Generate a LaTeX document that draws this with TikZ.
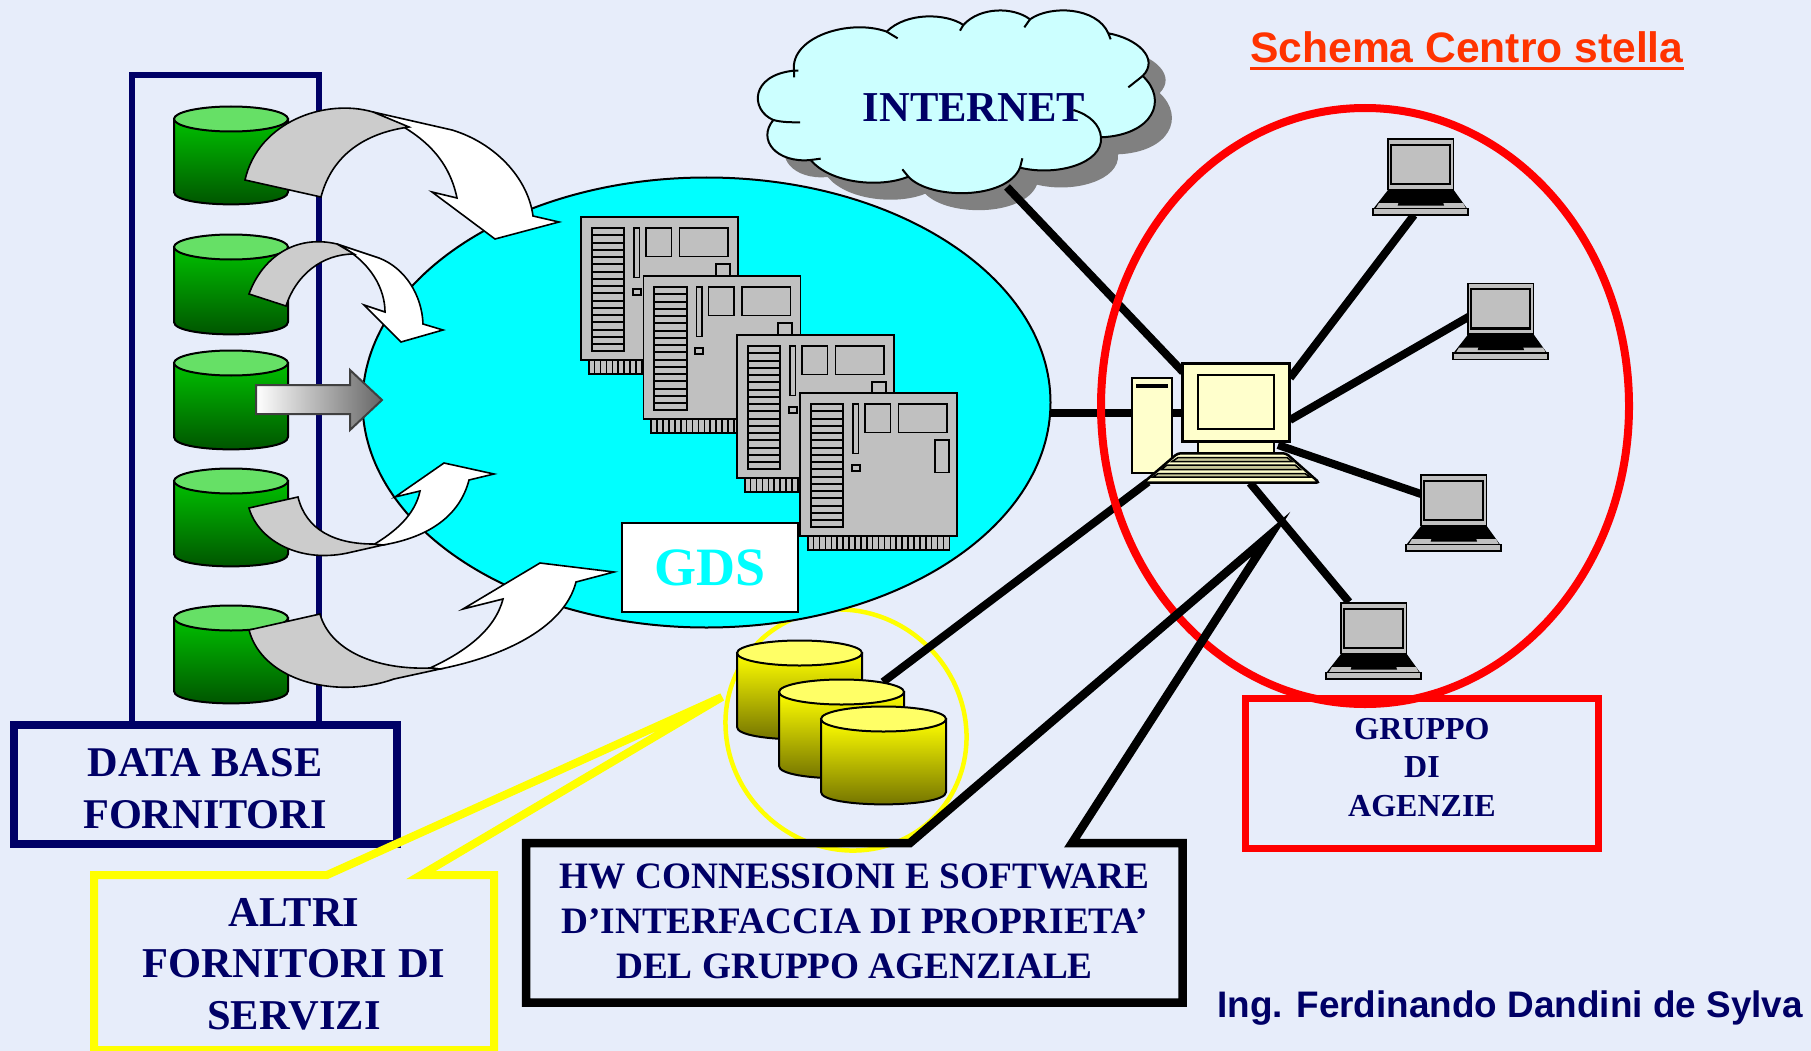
\documentclass[tikz,border=0pt]{standalone}
\usepackage{fontspec}
\setmainfont{Liberation Serif}
\setsansfont{Liberation Sans}
\definecolor{bgc}{HTML}{E7EDFA}
\definecolor{navy}{HTML}{000066}
\definecolor{titlered}{HTML}{FF3300}
\definecolor{boardg}{HTML}{C0C0C0}
\definecolor{cream}{HTML}{FFFFCC}
\definecolor{keyc}{HTML}{C8C89A}
\definecolor{arrowg}{HTML}{CCCCCC}
\definecolor{cloudc}{HTML}{CCFFFF}
\definecolor{pureyellow}{HTML}{FFFF00}
\definecolor{purecyan}{HTML}{00FFFF}
\definecolor{purered}{HTML}{FF0000}
\definecolor{gtop}{HTML}{00C000}
\definecolor{gbot}{HTML}{005000}
\definecolor{glid}{HTML}{66E066}
\definecolor{ytop}{HTML}{FFFF00}
\definecolor{ybot}{HTML}{6E6E00}
\definecolor{ylid}{HTML}{FFFF66}
\newcommand\cylshape[7]{%
  \draw[line width=2pt,black,top color=#5,bottom color=#6]
    ({#1-#4},#2) -- ({#1-#4},#3) .. controls ({#1-#4},{#3+16.5}) and ({#1+#4},{#3+16.5}) .. ({#1+#4},#3) -- ({#1+#4},#2) -- cycle;
  \draw[line width=2pt,black,fill=#7] (#1,#2) ellipse [x radius=#4pt,y radius=12.5pt];
}
\newcommand\cloudoutline{
  (222,212) .. controls (210,110) and (390,55) .. (500,95)
  .. controls (560,35) and (680,40) .. (730,75)
  .. controls (780,20) and (880,20) .. (930,58)
  .. controls (990,15) and (1130,20) .. (1165,100)
  .. controls (1250,115) and (1320,175) .. (1268,228)
  .. controls (1345,300) and (1300,405) .. (1143,412)
  .. controls (1150,490) and (1010,530) .. (900,503)
  .. controls (860,600) and (630,600) .. (565,530)
  .. controls (480,565) and (330,550) .. (272,480)
  .. controls (170,490) and (110,420) .. (160,360)
  .. controls (90,330) and (90,225) .. (222,212) -- cycle
}
\tikzset{
  x=1pt,y=-1pt,
  link/.style={line width=8pt,black},
  frameline/.style={line width=#1,navy},
  callouttext/.style={font=\bfseries\fontsize{42.3}{52}\selectfont,text=navy,align=center,inner sep=0pt},
  arrowline/.style={line width=1.6pt,black,line join=miter},
  boardline/.style={line width=1.6pt,black},
  boardpic/.pic={
    \foreach \i in {0,...,23}{\draw[boardline,fill=boardg] ({7.7+\i*5.9},140) rectangle ({7.7+(\i+1)*5.9},157);}
    \draw[boardline,fill=boardg] (0,0) rectangle (157,143);
    \draw[line width=2pt,black,fill=boardg] (10.7,11) rectangle (43.3,134.3);
    \foreach \i in {1,...,16}{\draw[line width=2pt,black] (10.7,{11+\i*7.25}) -- (43.3,{11+\i*7.25});}
    \draw[boardline,fill=boardg] (53,11) rectangle (58.3,60.3);
    \draw[boardline,fill=boardg] (51.7,71.7) rectangle (59.7,78);
    \draw[boardline,fill=boardg] (65,11) rectangle (90.3,39.3);
    \draw[boardline,fill=boardg] (98.3,11) rectangle (147,39.3);
    \draw[boardline,fill=boardg] (134.7,46.7) rectangle (148.7,79.3);
  },
  laptoppic/.pic={
    \draw[line width=1.5pt,black,fill=boardg] (15,0) rectangle (80.7,50.7);
    \draw[line width=2.2pt,black,fill=boardg] (18.3,5.7) rectangle (77.3,45);
    \fill[black] (15,51) -- (80.7,51) -- (94,69.5) -- (0.5,69.5) -- cycle;
    \fill[boardg] (6,64) -- (90,64) -- (92.7,69) -- (3,69) -- cycle;
    \fill[black] (25.7,63) -- (70,63) -- (71,66.5) -- (24.7,66.5) -- cycle;
    \draw[line width=1.5pt,black,fill=boardg] (0,69.7) rectangle (95,76);
  }
}
\begin{document}
\begin{tikzpicture}
\useasboundingbox (0,0) rectangle (1811,1051);
\fill[bgc] (0,0) rectangle (1811,1051);
% named attachment points
\coordinate (framenw) at (132,75); \coordinate (framene) at (319,75);
\coordinate (framesw) at (132,725); \coordinate (framese) at (319,725);
\coordinate (netfoot) at (1007,187); \coordinate (pcnet) at (1183,372);
\coordinate (gdsside) at (1051,413); \coordinate (pcgds) at (1190,413);
\coordinate (pcl1) at (1290,378); \coordinate (l1foot) at (1414,215);
\coordinate (pcl2) at (1290,420); \coordinate (l2side) at (1470,316);
\coordinate (pcl3) at (1278,445); \coordinate (l3side) at (1421,494);
\coordinate (pcl4) at (1250,483); \coordinate (l4top) at (1349,602);
\coordinate (pcdb) at (1148,482); \coordinate (dbtop) at (883,682);
% frame
\draw[frameline=6pt] (framesw) -- (framenw) -- (framene) -- (framese);
% green cylinders
\cylshape{231}{119}{192}{57}{gtop}{gbot}{glid}
\cylshape{231}{247}{322}{57}{gtop}{gbot}{glid}
\cylshape{231}{363}{437}{57}{gtop}{gbot}{glid}
\cylshape{231}{481}{554}{57}{gtop}{gbot}{glid}
\cylshape{231}{618}{691}{57}{gtop}{gbot}{glid}
% yellow circle
\draw[pureyellow,line width=4.5pt,rotate around={45:(846,730)}] (846,730) ellipse [x radius=117pt,y radius=124pt];
% links behind
\draw[link] (gdsside) -- (pcgds);
\draw[link] (pcdb) -- (dbtop);
% cyan ellipse
\draw[line width=2pt,black,fill=purecyan] (706.5,402.5) ellipse [x radius=344pt,y radius=225pt];
% boards
\pic at (581,217) {boardpic};
\pic at (643.5,276) {boardpic};
\pic at (737,335) {boardpic};
\pic at (800,393) {boardpic};
% GDS
\node[draw=black,line width=2.5pt,fill=white,minimum width=176pt,minimum height=89pt,inner sep=0pt,text=purecyan,font=\bfseries\fontsize{54}{54}\selectfont] (gds) at (710,567.5) {GDS};
% yellow cylinders
\cylshape{799.5}{653}{727}{62.5}{ytop}{ybot}{ylid}
\cylshape{841.5}{692}{766}{62.5}{ytop}{ybot}{ylid}
\cylshape{883.5}{719}{792}{62.5}{ytop}{ybot}{ylid}
% curved arrows
\draw[arrowline,fill=white] (373,112) -- (452,130) .. controls (495,143) and (528,178) .. (533,216) -- (559,222) -- (495,239) -- (432,192) -- (457,198) .. controls (450,165) and (430,135) .. (373,112) -- cycle;
\draw[arrowline,fill=arrowg] (245,180) .. controls (258,122) and (325,98) .. (373,112) -- (409,127) .. controls (365,133) and (332,155) .. (321,197) -- cycle;
\draw[arrowline,fill=white] (337,244) -- (379,258) .. controls (405,268) and (422,295) .. (423,324) -- (443,330) -- (401,342) -- (364,305) -- (385,312) .. controls (385,290) and (372,262) .. (337,244) -- cycle;
\draw[arrowline,fill=arrowg] (249,294) .. controls (262,258) and (295,234) .. (337,244) -- (354,254) .. controls (322,254) and (296,275) .. (286,306) -- cycle;
\draw[line width=2pt,black!75,left color=white,right color=black!60] (256,385) -- (350,385) -- (350,370) -- (382,400) -- (350,430) -- (350,414) -- (256,414) -- cycle;
\draw[arrowline,fill=white] (373,545) -- (383,545) .. controls (430,537) and (460,515) .. (469,480) -- (494,474) -- (444,463) -- (395,497) -- (420,491) .. controls (415,515) and (395,532) .. (373,545) -- cycle;
\draw[arrowline,fill=arrowg] (249,508) .. controls (258,540) and (300,565) .. (352,552) -- (383,545) -- (373,544) .. controls (335,544) and (306,530) .. (298,497) -- cycle;
\draw[arrowline,fill=white] (430,668) -- (440,669) .. controls (510,655) and (565,625) .. (576,582) -- (614,572) -- (540,563) -- (463,609) -- (503,599) .. controls (495,630) and (465,652) .. (430,668) -- cycle;
\draw[arrowline,fill=arrowg] (249,630) .. controls (262,680) and (335,700) .. (394,679) -- (440,669) -- (430,668) .. controls (375,670) and (330,650) .. (320,614) -- cycle;
% cloud shadow
\begin{scope}[shift={(737,17)},x=0.33333pt,y=-0.33333pt]
\fill[black!50] \cloudoutline;
\end{scope}
\draw[link] (netfoot) -- (pcnet);
\begin{scope}[shift={(720,0)},x=0.33333pt,y=-0.33333pt]
\fill[cloudc] \cloudoutline;
\node[font=\bfseries\fontsize{42.6}{44}\selectfont,text=navy,inner sep=0pt,anchor=base] (internet) at (762,364) {INTERNET};
\draw[line width=2pt,black] \cloudoutline;
\draw[line width=2pt,black] (500,95) -- (533,115) (730,75) -- (720,92) (930,58) -- (913,82) (1165,100) -- (1172,118)
  (1268,228) -- (1225,262) (1143,412) .. controls (1140,375) and (1110,345) .. (1060,330)
  (900,503) -- (907,475) (565,530) -- (547,508) (272,480) -- (302,476) (160,360) .. controls (185,367) and (215,367) .. (240,367)
  (222,212) -- (222,232) (222,212) -- (235,212);
\end{scope}
% star links
\draw[link] (pcl1) -- (l1foot);
\draw[link] (pcl2) -- (l2side);
\draw[link] (pcl3) -- (l3side);
\draw[link] (pcl4) -- (l4top);
% laptops
\pic at (1373,139) {laptoppic};
\pic at (1453,283.5) {laptoppic};
\pic at (1406,475) {laptoppic};
\pic at (1326,603) {laptoppic};
% central PC
\draw[line width=2.2pt,black,fill=cream] (1131.7,378.3) rectangle (1172.3,473.3);
\fill[black] (1136,384.3) rectangle (1168,387.7);
\draw[line width=2.2pt,black,fill=cream] (1198,441) rectangle (1274,454);
\draw[line width=2.5pt,black,fill=cream] (1182.7,363.5) rectangle (1289.3,441.7);
\draw[line width=2pt,black,fill=cream] (1197.7,375.3) rectangle (1274.3,429.3);
\draw[line width=2.5pt,black,fill=cream,rounded corners=3pt] (1177.7,453.3) -- (1286,453.3) -- (1319.3,482.7) -- (1143.3,482.7) -- cycle;
\draw[line width=1.5pt,black,fill=keyc] (1178,457.5) -- (1287,457.5) -- (1292,461.5) -- (1172,461.5) -- cycle;
\draw[line width=1.5pt,black,fill=keyc] (1167,465) -- (1295,465) -- (1300.5,469.5) -- (1161.5,469.5) -- cycle;
\draw[line width=1.5pt,black,fill=keyc] (1158,473.5) -- (1305,473.5) -- (1310,477) -- (1153,477) -- cycle;
% data base box
\node[draw=navy,line width=8pt,minimum width=383pt,minimum height=119pt,inner sep=0pt] (dbbox) at (205.5,784.5) {};
\node[callouttext] (dbtext) at (205,788.5) {DATA BASE\\FORNITORI};
% red ellipse and agency box
\draw[purered,line width=8pt] (1365,406) ellipse [x radius=264pt,y radius=298pt];
\node[draw=purered,line width=7.5pt,minimum width=353pt,minimum height=150pt,inner sep=0pt] (grbox) at (1422,773.5) {};
\node[text=navy,font=\bfseries\fontsize{32}{38.5}\selectfont,align=center,inner sep=0pt] (grtext) at (1422,767.5) {GRUPPO\\DI\\AGENZIE};
% HW box with callout
\draw[black,line width=8.5pt,miter limit=12] (1072,843) -- (1271,534) -- (910,843) -- (526,843) -- (526,1002.5) -- (1182.5,1002.5) -- (1182.5,843) -- cycle;
\node[text=navy,font=\bfseries\fontsize{37.3}{45}\selectfont,align=center,inner sep=0pt] (hwtext) at (854.5,921.7) {HW CONNESSIONI E SOFTWARE\\D’INTERFACCIA DI PROPRIETA’\\DEL GRUPPO AGENZIALE};
% yellow callout
\coordinate (ytip) at (722,697);
\draw[pureyellow,line width=8pt,miter limit=12] (421,875) -- (ytip) -- (327,875) -- (94,875) -- (94,1050) -- (494,1050) -- (494,875) -- cycle;
\node[callouttext,font=\bfseries\fontsize{42.5}{51.5}\selectfont] (altext) at (294,964) {ALTRI\\FORNITORI DI\\SERVIZI};
% texts
\node[anchor=base west,inner sep=0pt,text=titlered,font=\sffamily\bfseries\fontsize{42.6}{42}\selectfont] (title) at (1250,63) {Schema Centro stella};
\draw[titlered,line width=3pt] ([yshift=-6pt]title.base west) -- ([yshift=-6pt]title.base east);
\node[anchor=base west,inner sep=0pt,text=navy,font=\sffamily\bfseries\fontsize{36.9}{37}\selectfont] (author) at (1217,1017) {Ing. Ferdinando Dandini de Sylva};
\end{tikzpicture}
\end{document}
